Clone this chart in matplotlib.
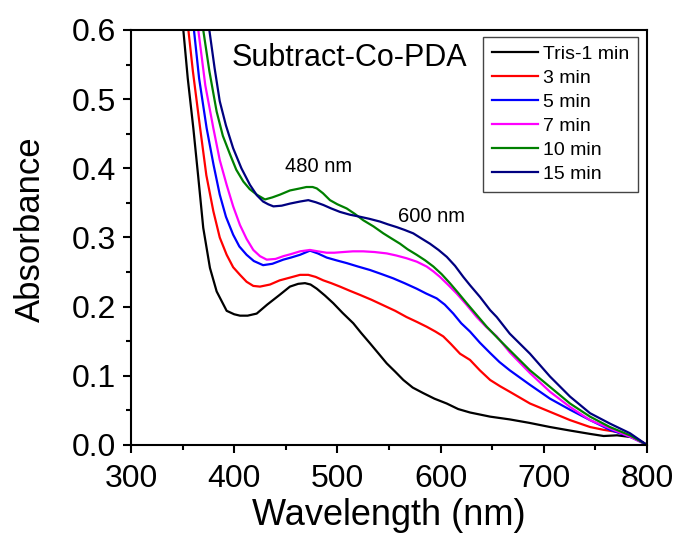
import matplotlib
matplotlib.use("Agg")
import matplotlib.pyplot as plt
from matplotlib.ticker import MultipleLocator, FormatStrFormatter

plt.rcParams['font.family'] = ['Liberation Sans', 'DejaVu Sans']

labels = ['Tris-1 min', '3 min', '5 min', '7 min', '10 min', '15 min']
colors = ['#000000', '#ff0000', '#0000ff', '#ff00ff', '#008000', '#000080']

wl_1 = [350.7, 355, 360.4, 365, 370, 376.5, 383, 392.7, 400, 405.6, 413, 421.8, 432, 444, 454, 462,
        468.6, 474, 480, 488, 496, 505, 515.4, 523, 531.6, 540, 547.8, 556, 563.9, 573, 583.2, 594,
        605.9, 617, 628.5, 648, 667, 686, 706, 725, 745, 758, 771, 787, 800]
abs_1 = [0.600, 0.53, 0.458, 0.39, 0.314, 0.256, 0.222, 0.194, 0.189, 0.187, 0.187, 0.190, 0.203,
         0.217, 0.229, 0.233, 0.234, 0.232, 0.226, 0.216, 0.205, 0.191, 0.176, 0.162, 0.147, 0.132,
         0.118, 0.106, 0.094, 0.083, 0.075, 0.067, 0.060, 0.052, 0.047, 0.041, 0.037, 0.032, 0.026,
         0.021, 0.016, 0.013, 0.014, 0.011, 0.0]

wl_3 = [355.6, 360, 367, 373, 379.8, 386, 392.7, 399, 405.6, 412, 418.5, 425, 434.7, 444, 454, 463.8,
        471.8, 479, 486.4, 494, 502.5, 512, 521.9, 533, 544.5, 556, 567, 577, 586.5, 595, 602.6, 610,
        618.8, 628.5, 638, 648, 657.6, 667, 686.6, 706, 725.4, 744.8, 757.7, 770.6, 786.8, 800]
abs_3 = [0.600, 0.54, 0.458, 0.39, 0.338, 0.300, 0.275, 0.257, 0.246, 0.236, 0.230, 0.229, 0.232,
         0.238, 0.242, 0.246, 0.246, 0.243, 0.238, 0.234, 0.229, 0.223, 0.217, 0.210, 0.202, 0.194,
         0.185, 0.178, 0.171, 0.164, 0.157, 0.146, 0.132, 0.123, 0.108, 0.094, 0.085, 0.077, 0.060,
         0.048, 0.036, 0.026, 0.022, 0.019, 0.012, 0.0]

wl_5 = [361, 366, 373.3, 380, 386, 392, 399, 405, 412, 419, 428, 437, 447.6, 455, 463.8, 473.4, 481,
        489.6, 499, 509, 520, 531.6, 543, 554, 565, 576.8, 586, 596.2, 604, 612.3, 620, 628.5, 638,
        648, 657, 667, 686.6, 706, 725.4, 744.8, 764, 783.5, 800]
abs_5 = [0.600, 0.53, 0.458, 0.405, 0.362, 0.330, 0.304, 0.287, 0.275, 0.266, 0.260, 0.262, 0.268,
         0.271, 0.275, 0.281, 0.277, 0.271, 0.267, 0.263, 0.258, 0.253, 0.247, 0.241, 0.234, 0.226,
         0.219, 0.212, 0.203, 0.190, 0.176, 0.164, 0.148, 0.133, 0.120, 0.108, 0.087, 0.067, 0.051,
         0.036, 0.022, 0.012, 0.0]

wl_7 = [365.2, 372, 379.8, 386, 392.7, 399, 405.6, 412, 418.5, 425, 431.5, 440, 447.6, 455, 463.8,
        473.4, 481, 489.6, 497, 505.7, 515, 525, 536, 547.8, 557, 567, 577, 586.5, 593, 599.4, 607,
        615.6, 625, 635, 644, 654.4, 667, 686.6, 706, 725.4, 744.8, 764, 783.5, 800]
abs_7 = [0.600, 0.52, 0.458, 0.412, 0.376, 0.345, 0.318, 0.298, 0.282, 0.273, 0.268, 0.269, 0.273,
         0.276, 0.280, 0.282, 0.280, 0.278, 0.278, 0.279, 0.280, 0.280, 0.279, 0.277, 0.274, 0.270,
         0.265, 0.258, 0.251, 0.243, 0.232, 0.219, 0.203, 0.185, 0.171, 0.157, 0.134, 0.104, 0.077,
         0.055, 0.036, 0.024, 0.012, 0.0]

wl_10 = [370, 376, 383, 389, 396, 402, 408.8, 415, 421.8, 429.8, 437, 444.4, 454, 463.8, 470, 476,
         480, 486, 492.8, 500, 509, 517, 525, 535, 544.5, 552, 560.7, 568, 576.8, 585, 593, 601, 609,
         617, 625.3, 635, 644.7, 655, 667, 686.6, 706, 725.4, 744.8, 764, 783.5, 800]
abs_10 = [0.600, 0.54, 0.482, 0.447, 0.420, 0.398, 0.381, 0.370, 0.362, 0.355, 0.358, 0.362, 0.368,
          0.371, 0.373, 0.373, 0.371, 0.364, 0.354, 0.348, 0.342, 0.334, 0.325, 0.316, 0.306, 0.299,
          0.291, 0.283, 0.275, 0.267, 0.258, 0.247, 0.234, 0.220, 0.205, 0.188, 0.171, 0.155, 0.137,
          0.108, 0.084, 0.060, 0.041, 0.026, 0.014, 0.0]

wl_15 = [375.9, 381, 386, 392, 399, 407, 415.3, 422, 428, 433, 438, 446, 454, 463.8, 471.8, 479, 486.4,
         494, 502.5, 512, 521.9, 531, 541.3, 549, 557.5, 565, 573.5, 581, 589.7, 598, 606, 614, 622,
         628.5, 638.2, 648, 654.4, 667, 686.6, 706, 725.4, 744.8, 764, 783.5, 800]
abs_15 = [0.600, 0.545, 0.497, 0.462, 0.429, 0.400, 0.376, 0.361, 0.352, 0.348, 0.345, 0.346, 0.349,
          0.352, 0.354, 0.351, 0.347, 0.342, 0.337, 0.333, 0.330, 0.327, 0.323, 0.319, 0.315, 0.311,
          0.306, 0.299, 0.291, 0.282, 0.272, 0.259, 0.243, 0.231, 0.214, 0.195, 0.185, 0.161, 0.132,
          0.099, 0.070, 0.046, 0.031, 0.017, 0.0]

series_wl = [wl_1, wl_3, wl_5, wl_7, wl_10, wl_15]
series_abs = [abs_1, abs_3, abs_5, abs_7, abs_10, abs_15]

fig = plt.figure(figsize=(6.78, 5.41), dpi=100)
ax = fig.add_axes([131/678, 1-445/541, 516/678, 415/541])

for x, y, c, lab in zip(series_wl, series_abs, colors, labels):
    ax.plot(x, y, color=c, lw=1.6, label=lab)

ax.set_xlim(300, 800)
ax.set_ylim(0, 0.6)
ax.xaxis.set_major_locator(MultipleLocator(100))
ax.xaxis.set_minor_locator(MultipleLocator(50))
ax.yaxis.set_major_locator(MultipleLocator(0.1))
ax.yaxis.set_minor_locator(MultipleLocator(0.05))
ax.yaxis.set_major_formatter(FormatStrFormatter('%.1f'))
ax.tick_params(which='both', direction='out', width=1.5, top=False, right=False)
ax.tick_params(which='major', length=6, labelsize=23)
ax.tick_params(axis='x', which='major', pad=7.5)
ax.tick_params(axis='y', which='major', pad=5)
ax.tick_params(which='minor', length=3.5)
for s in ax.spines.values():
    s.set_linewidth(1.5)

ax.set_xlabel('Wavelength (nm)', fontsize=26, labelpad=3)
ax.set_ylabel('Absorbance', fontsize=25)
ax.yaxis.set_label_coords(-0.163, 0.52)

ax.text(397.6, 0.548, 'Subtract-Co-PDA', fontsize=22, va='baseline', ha='left')
ax.text(449, 0.395, '480 nm', fontsize=14.5, va='baseline', ha='left')
ax.text(559, 0.3227, '600 nm', fontsize=14.5, va='baseline', ha='left')

leg = ax.legend(loc='upper right', bbox_to_anchor=(0.983, 0.984), fontsize=14,
                frameon=True, fancybox=False, edgecolor='#444444', framealpha=1,
                handlelength=2.4, handletextpad=0.25, labelspacing=0.33,
                borderpad=0.45, borderaxespad=0)
leg.get_frame().set_linewidth(1.0)

fig.savefig('out.png', dpi=100)
